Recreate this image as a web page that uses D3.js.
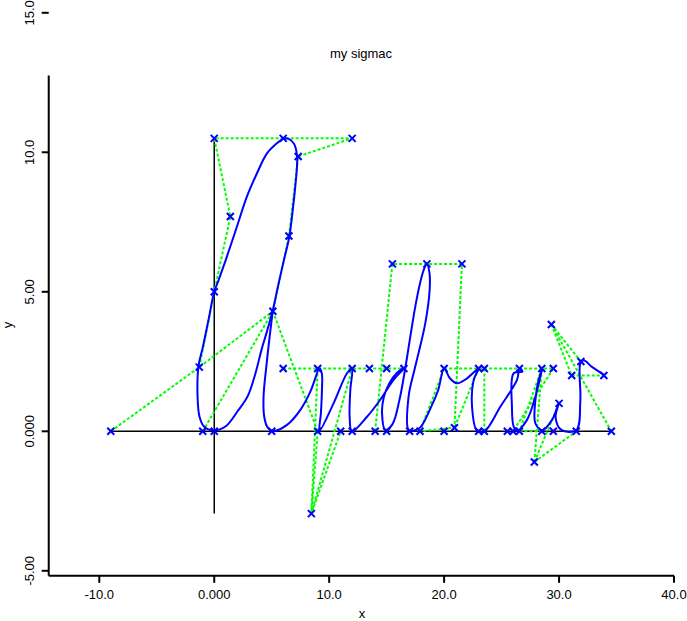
<!DOCTYPE html>
<html><head><meta charset="utf-8">
<script src="https://cdn.jsdelivr.net/npm/d3@7"></script>
<style>body{margin:0;background:#fff}svg{display:block}text{font-family:"Liberation Sans",Arial,sans-serif;font-size:13px;fill:#000}</style>
</head><body><svg id="c" width="687" height="621"></svg>
<script>
const titleText = "my sigmac";
const xTicks = [-10, 0, 10, 20, 30, 40];
const xTickLabels = ["-10.0", "0.000", "10.0", "20.0", "30.0", "40.0"];
const yTicks = [-5, 0, 5, 10, 15];
const yTickLabels = ["-5.00", "0.000", "5.00", "10.0", "15.0"];
const xAxisExtent = [-14.4, 40];
const yAxisExtent = [-5.18, 12.75];
const refH = [[-9, 0], [34.55, 0]];
const refV = [[0, -2.95], [0, 10.5]];

// control points (blue crosses)
const ctrlX = [-9, -1.3, -1, 0, 0, 1.4, 0, 6, 12, 7.3, 6.5, 5.1, 5, 6, 9, 9, 8.45, 11, 12, 13.5, 12, 14, 15, 15, 16.5, 17, 17.9, 15.5, 18.5, 21.55, 20, 20, 20.9, 23, 23.5, 23, 23.5, 25.5, 26, 26.55, 26.55, 28.5, 29.5, 28.5, 29.5, 31.5, 27.85, 29.33, 31.1, 31.9, 33.9, 30.0, 34.55];
const ctrlY = [0, 2.3, 0, 0, 5, 7.7, 10.5, 10.5, 10.5, 9.85, 7, 4.3, 0, 2.25, 2.25, 0, -2.95, 0, 2.25, 2.25, 0, 0, 0, 2.25, 2.25, 0, 0, 6, 6, 6, 2.25, 0, 0.13, 2.25, 2.25, 0, 0, 0, 0, 0, 2.25, 2.25, 2.25, 0, 0, 0, -1.1, 3.83, 2.0, 2.5, 2.0, 1.0, 0];

// green target polylines (indices into ctrl arrays)
const greenPolys = [
  [0, 1, 11],
  [1, 4, 5, 6, 7, 8, 9, 10, 11],
  [2, 11], [11, 15],
  [13, 14, 18, 19, 23, 24],
  [14, 16, 18], [15, 16, 17],
  [21, 27, 28, 29, 32, 26],
  [30, 33, 34, 40, 41, 42],
  [34, 36], [33, 32], [30, 26],
  [41, 39], [42, 38], [39, 43],
  [47, 48, 50], [47, 49], [47, 52],
  [46, 41], [46, 51], [46, 45]
];

// blue pen trajectory
const blueStrokes = [
  [[6.03,10.5],[5.45,10.32],[4.59,9.96],[3.72,9.25],[2.84,8.41],[1.97,7.33],[1.1,6.26],[0.38,5.42],[0,5.0],[-0.5,3.99],[-1.0,3.0],[-1.37,2.34],[-1.45,1.24],[-1.28,0.52],[-0.87,0.16],[-0.06,0.03],[1.0,0.18],[2.0,0.7],[2.9,1.25],[3.6,2.1],[4.1,2.9],[4.6,3.6],[5.1,4.35],[5.6,5.3],[6.1,6.2],[6.53,6.97],[6.85,8.0],[7.05,8.77],[7.2,9.5],[7.2,9.9],[6.95,10.3],[6.47,10.48],[6.03,10.5]],
  [[5.1,4.35],[4.82,3.39],[4.53,2.32],[4.29,1.24],[4.35,0.52],[4.64,0.14],[5.1,0.01],[6.33,0.23],[7.48,0.76],[8.36,1.42],[8.94,2.08],[9.1,2.27],[9.35,2.1],[9.37,1.48],[9.28,0.65],[9.16,0.02],[10.38,1.0],[11.55,2.08],[11.98,2.25],[11.84,1.48],[11.78,0.52],[11.98,0.0],[13.29,0.52],[14.3,1.05],[15.6,1.84],[16.48,2.26],[15.9,2.1],[15.2,1.7],[14.74,1.2],[14.6,0.65],[14.88,0.05],[15.5,0.25],[16.1,1.1],[16.62,2.26],[17.1,3.5],[17.49,4.47],[17.9,5.3],[18.22,5.78],[18.5,6.0],[18.72,5.7],[18.74,5.06],[18.36,3.87],[17.49,2.32],[16.91,1.25],[16.91,0.05],[17.4,0.03],[17.95,0.15],[18.9,0.9],[19.5,1.5],[20,2.25],[20.5,1.9],[21.12,1.72],[22,1.9],[23,2.25],[22.57,1.84],[22.43,0.88],[22.86,0.02],[23.5,0.0],[24.89,0.88],[26.34,1.84],[26.57,2.26],[26.8,2.14],[26.05,2.08],[25.9,0.88],[26.05,0.17],[26.34,0.02],[27.21,0.41],[27.94,1.24],[28.37,1.96],[28.55,2.26],[28.2,1.8],[27.94,1.12],[27.94,0.28],[28.53,0.04],[29.39,0.41],[29.97,1.0],[29.7,0.5],[30.2,0.05],[31.5,0.04],[31.85,1.1],[31.85,2.43],[32.14,2.55],[32.86,2.31],[34.0,2.0]]
];

const svg = d3.select("#c");
const x = d3.scaleLinear().domain([-10, 40]).range([99.3, 674]);
const y = d3.scaleLinear().domain([-5, 15]).range([570.8, 12.8]);

svg.append("rect").attr("width", 687).attr("height", 621).attr("fill", "#fff");

const yAxisX = x(xAxisExtent[0]);
const xAxisY = y(yAxisExtent[0]);
svg.append("line").attr("x1", yAxisX).attr("x2", x(xAxisExtent[1])).attr("y1", xAxisY).attr("y2", xAxisY).attr("stroke", "#000").attr("stroke-width", 2);
svg.append("line").attr("x1", yAxisX).attr("x2", yAxisX).attr("y1", y(yAxisExtent[1])).attr("y2", xAxisY).attr("stroke", "#000").attr("stroke-width", 2);

xTicks.forEach((t, i) => {
  svg.append("line").attr("x1", x(t)).attr("x2", x(t)).attr("y1", xAxisY).attr("y2", xAxisY + 7).attr("stroke", "#000").attr("stroke-width", 2);
  svg.append("text").attr("x", x(t)).attr("y", xAxisY + 23).attr("text-anchor", "middle").text(xTickLabels[i]);
});
yTicks.forEach((t, i) => {
  svg.append("line").attr("x1", yAxisX - 7).attr("x2", yAxisX).attr("y1", y(t)).attr("y2", y(t)).attr("stroke", "#000").attr("stroke-width", 2);
  svg.append("text").attr("transform", `translate(33.5,${y(t)}) rotate(-90)`).attr("text-anchor", "middle").text(yTickLabels[i]);
});
svg.append("text").attr("x", 362).attr("y", 618).attr("text-anchor", "middle").text("x");
svg.append("text").attr("transform", "translate(12,325) rotate(-90)").attr("text-anchor", "middle").text("y");
svg.append("text").attr("x", 361).attr("y", 58).attr("text-anchor", "middle").text(titleText);

const ln = d3.line().x(d => x(d[0])).y(d => y(d[1]));
svg.append("path").attr("d", ln(refH)).attr("stroke", "#000").attr("stroke-width", 1.5).attr("fill", "none");
svg.append("path").attr("d", ln(refV)).attr("stroke", "#000").attr("stroke-width", 1.5).attr("fill", "none");

greenPolys.forEach(p => {
  svg.append("path").attr("d", ln(p.map(i => [ctrlX[i], ctrlY[i]])))
    .attr("stroke", "#00ff00").attr("stroke-width", 2).attr("stroke-dasharray", "3,2").attr("fill", "none");
});

const curve = d3.line().x(d => x(d[0])).y(d => y(d[1])).curve(d3.curveCatmullRom.alpha(0.5));
blueStrokes.forEach(s => {
  svg.append("path").attr("d", curve(s)).attr("stroke", "#0000ff").attr("stroke-width", 2).attr("fill", "none");
});

const r = 3.5;
ctrlX.forEach((cx, i) => {
  const px = x(cx), py = y(ctrlY[i]);
  svg.append("path").attr("d", `M${px - r},${py - r}L${px + r},${py + r}M${px - r},${py + r}L${px + r},${py - r}`)
    .attr("stroke", "#0000ff").attr("stroke-width", 2);
});
</script></body></html>
